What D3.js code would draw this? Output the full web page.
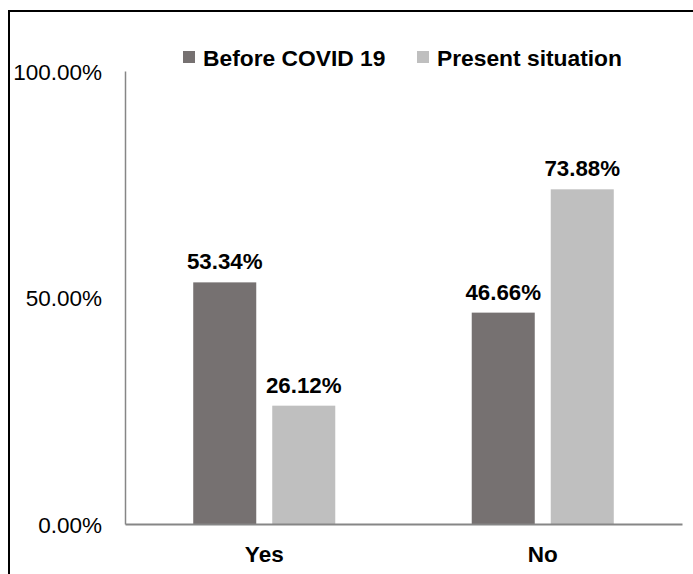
<!DOCTYPE html>
<html>
<head>
<meta charset="utf-8">
<script src="https://cdn.jsdelivr.net/npm/d3@7"></script>
<style>
  html, body { margin: 0; padding: 0; background: #fff; }
  svg { display: block; font-family: "Liberation Sans", Arial, sans-serif; }
</style>
</head>
<body>
<svg id="chart" width="693" height="574"></svg>
<script>
const categories = ["Yes", "No"];
const seriesNames = ["Before COVID 19", "Present situation"];
const beforeValues = [53.34, 46.66];
const presentValues = [26.12, 73.88];
const yTicks = [0, 50, 100];
const colors = ["#767171", "#BFBFBF"];

const seriesValues = [beforeValues, presentValues];
const data = categories.map((c, i) => ({
  category: c,
  values: seriesNames.map((s, j) => ({ series: s, value: seriesValues[j][i], color: colors[j] }))
}));

const svg = d3.select("#chart");
const W = 693, H = 574;

// outer border
svg.append("rect")
  .attr("x", 9).attr("y", 11)
  .attr("width", W + 20).attr("height", H + 20)
  .attr("fill", "#fff").attr("stroke", "#000").attr("stroke-width", 2);

const plot = { left: 125, right: 682, top: 71, bottom: 524 };

const x0 = d3.scaleBand().domain(categories)
  .range([plot.left, plot.right]).paddingInner(0.49).paddingOuter(0.245);
const x1 = d3.scaleBand().domain(seriesNames)
  .range([0, x0.bandwidth()]).paddingInner(0.2025);
const y = d3.scaleLinear().domain([0, 100]).range([plot.bottom, plot.top]);

// bars
const groups = svg.append("g").selectAll("g").data(data).join("g")
  .attr("transform", d => `translate(${x0(d.category)},0)`);

groups.selectAll("rect").data(d => d.values).join("rect")
  .attr("x", d => x1(d.series))
  .attr("y", d => y(d.value))
  .attr("width", x1.bandwidth())
  .attr("height", d => y(0) - y(d.value))
  .attr("fill", d => d.color);

groups.selectAll("text.lbl").data(d => d.values).join("text")
  .attr("class", "lbl")
  .attr("x", d => x1(d.series) + x1.bandwidth() / 2)
  .attr("y", d => y(d.value) - 13)
  .attr("text-anchor", "middle")
  .attr("font-size", 22.3).attr("font-weight", "bold").attr("fill", "#000")
  .text(d => d.value.toFixed(2) + "%");

// y axis
const yAxis = d3.axisLeft(y).tickValues(yTicks).tickSize(0).tickPadding(23)
  .tickFormat(d => d.toFixed(2) + "%");
const yg = svg.append("g").attr("transform", `translate(${plot.left},0)`).call(yAxis);
yg.select(".domain").attr("stroke", "#868686").attr("stroke-width", 1.5);
yg.selectAll("text").attr("font-size", 22.5).attr("fill", "#000")
  .attr("font-family", "Liberation Sans, Arial, sans-serif").attr("dy", "0.36em");

// x axis
const xAxis = d3.axisBottom(x0).tickSize(0).tickPadding(38);
const xg = svg.append("g").attr("transform", `translate(0,${plot.bottom})`).call(xAxis);
xg.select(".domain").attr("stroke", "#868686").attr("stroke-width", 1.8);
xg.selectAll("text").attr("font-size", 22.5).attr("font-weight", "bold").attr("fill", "#000")
  .attr("font-family", "Liberation Sans, Arial, sans-serif").attr("dy", "0");

// legend
const legendX = [183, 417];
const legend = svg.append("g");
seriesNames.forEach((s, i) => {
  legend.append("rect").attr("x", legendX[i]).attr("y", 51)
    .attr("width", 12).attr("height", 12).attr("fill", colors[i]);
  legend.append("text").attr("x", legendX[i] + 20).attr("y", 66)
    .attr("font-size", 22.8).attr("font-weight", "bold").attr("fill", "#000")
    .text(s);
});
</script>
</body>
</html>
